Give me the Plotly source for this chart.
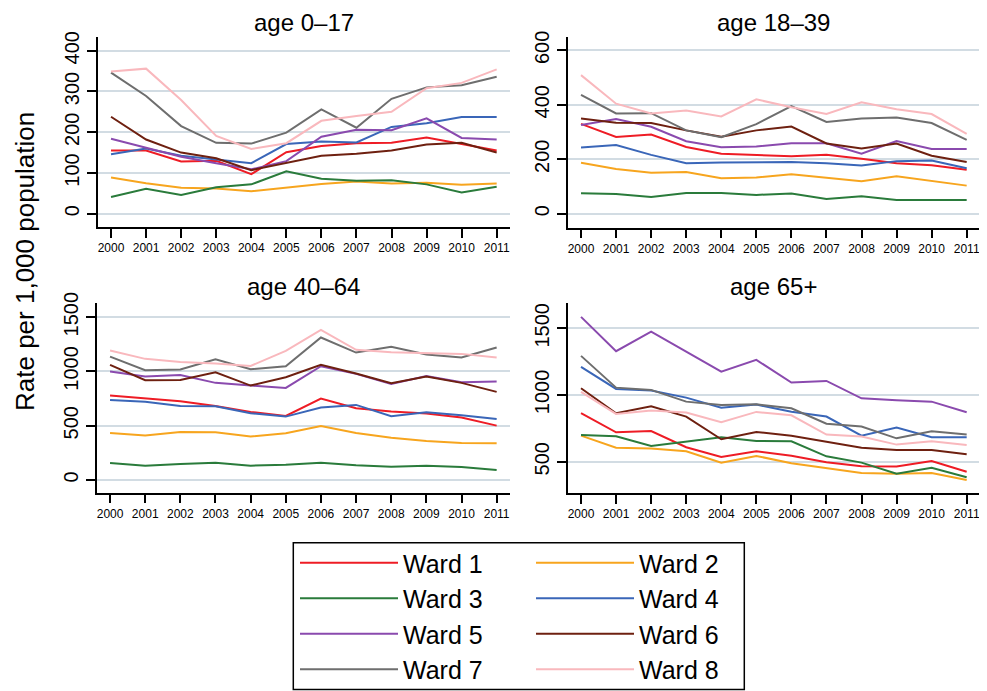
import plotly.graph_objects as go

years = list(range(2000, 2012))
wards = ["Ward 1", "Ward 2", "Ward 3", "Ward 4", "Ward 5", "Ward 6", "Ward 7", "Ward 8"]
colors = ["#ee1c25", "#f7a51e", "#2a7b3b", "#3a66b8", "#8a4aae", "#6e2010", "#6e6e6e", "#f9b8bd"]
panel_titles = ["age 0\u201317", "age 18\u201339", "age 40\u201364", "age 65+"]

age_0_17 = {
    "Ward 1": [155, 155, 128, 130, 97, 151, 166, 173, 174, 187, 171, 155],
    "Ward 2": [89, 75, 64, 62, 55, 64, 73, 79, 74, 76, 71, 74],
    "Ward 3": [41, 61, 46, 65, 72, 104, 86, 81, 82, 72, 52, 66],
    "Ward 4": [146, 160, 142, 133, 124, 171, 177, 175, 213, 222, 237, 237],
    "Ward 5": [184, 162, 140, 124, 109, 129, 189, 206, 205, 234, 186, 182],
    "Ward 6": [238, 182, 150, 136, 107, 125, 142, 147, 155, 170, 174, 150],
    "Ward 7": [346, 289, 215, 174, 172, 199, 256, 211, 282, 310, 315, 336],
    "Ward 8": [349, 356, 279, 191, 159, 173, 228, 240, 250, 308, 321, 354],
}
age_18_39 = {
    "Ward 1": [330, 282, 291, 245, 220, 216, 211, 216, 202, 185, 178, 161],
    "Ward 2": [187, 164, 150, 153, 130, 133, 145, 133, 119, 137, 119, 103],
    "Ward 3": [75, 72, 61, 76, 76, 69, 74, 54, 64, 50, 50, 50],
    "Ward 4": [243, 252, 216, 185, 188, 188, 190, 185, 177, 193, 195, 167],
    "Ward 5": [326, 348, 319, 266, 244, 247, 259, 259, 220, 267, 238, 238],
    "Ward 6": [350, 334, 333, 306, 283, 306, 320, 258, 239, 258, 213, 190],
    "Ward 7": [436, 368, 369, 306, 281, 329, 395, 337, 350, 353, 333, 271],
    "Ward 8": [509, 404, 368, 379, 357, 420, 391, 366, 409, 384, 366, 293],
}
age_40_64 = {
    "Ward 1": [778, 753, 725, 682, 627, 590, 750, 661, 630, 612, 575, 501],
    "Ward 2": [433, 409, 443, 440, 400, 430, 498, 433, 390, 360, 341, 338],
    "Ward 3": [157, 132, 148, 160, 132, 141, 160, 135, 123, 132, 120, 92],
    "Ward 4": [738, 722, 682, 679, 615, 584, 667, 692, 587, 624, 596, 563],
    "Ward 5": [999, 953, 968, 895, 870, 848, 1048, 978, 885, 959, 901, 907],
    "Ward 6": [1061, 919, 922, 993, 870, 947, 1061, 981, 891, 953, 895, 812],
    "Ward 7": [1137, 1011, 1018, 1113, 1021, 1048, 1313, 1174, 1227, 1156, 1128, 1220],
    "Ward 8": [1193, 1116, 1088, 1073, 1051, 1190, 1383, 1199, 1177, 1171, 1162, 1128],
}
age_65_plus = {
    "Ward 1": [863, 720, 730, 608, 535, 578, 545, 495, 465, 463, 505, 425],
    "Ward 2": [695, 605, 598, 578, 493, 543, 488, 450, 415, 410, 415, 363],
    "Ward 3": [700, 690, 618, 648, 683, 655, 653, 540, 493, 410, 455, 383],
    "Ward 4": [1210, 1045, 1033, 980, 905, 928, 875, 838, 695, 755, 683, 683],
    "Ward 5": [1585, 1328, 1475, 1325, 1175, 1263, 1093, 1105, 975, 960, 950, 870],
    "Ward 6": [1050, 863, 915, 838, 668, 723, 695, 648, 605, 588, 588, 555],
    "Ward 7": [1293, 1055, 1038, 950, 925, 930, 900, 785, 763, 675, 728, 703],
    "Ward 8": [1023, 858, 883, 868, 795, 873, 848, 703, 688, 628, 653, 625],
}
panels = [age_0_17, age_18_39, age_40_64, age_65_plus]
y_ticks = [[0, 100, 200, 300, 400], [0, 200, 400, 600], [0, 500, 1000, 1500], [500, 1000, 1500]]
y_ranges = [[-32.6, 433.6], [-50.8, 649], [-117, 1628], [263, 1687]]

W, H = 987, 691
OFF = 8  # page body margin offset of the plot div


def px_x(v):
    return (v - OFF) / W


def px_y(v):
    return 1 - (v - OFF) / H


x_domains = [[97.7, 510], [567.7, 980], [96.7, 510], [567.7, 980]]
y_domains = [[37, 227], [37, 227.5], [303.3, 492.7], [303.3, 493.3]]

FONT = "Liberation Sans, Arial, Helvetica, sans-serif"
fig = go.Figure()
for p, data in enumerate(panels):
    for i, (w, c) in enumerate(zip(wards, colors)):
        fig.add_trace(go.Scatter(
            x=years, y=data[w], mode="lines", name=w,
            line=dict(color=c, width=2),
            xaxis="x" if p == 0 else f"x{p+1}",
            yaxis="y" if p == 0 else f"y{p+1}",
            showlegend=(p == 0), legendgroup=w,
            legend="legend" if i % 2 == 0 else "legend2",
        ))

leg_common = dict(
    orientation="v", yanchor="top", xanchor="left",
    borderwidth=0, bgcolor="rgba(0,0,0,0)",
    font=dict(size=25, family=FONT, color="black"),
    itemwidth=98, tracegroupgap=0, traceorder="normal",
)
layout = dict(
    width=W, height=H,
    margin=dict(l=0, r=0, t=0, b=0, autoexpand=False),
    paper_bgcolor="white", plot_bgcolor="white",
    font=dict(family=FONT, color="black"),
    showlegend=True,
    legend=dict(x=px_x(295), y=px_y(540), **leg_common),
    legend2=dict(x=px_x(531), y=px_y(540), **leg_common),
    shapes=[dict(type="rect", xref="paper", yref="paper",
                 x0=px_x(293.3), x1=px_x(744.3), y0=px_y(689.5), y1=px_y(542.7),
                 line=dict(color="black", width=1.5), fillcolor="rgba(0,0,0,0)")],
    annotations=[],
)
for p in range(4):
    xs = "xaxis" if p == 0 else f"xaxis{p+1}"
    ys = "yaxis" if p == 0 else f"yaxis{p+1}"
    xa = "x" if p == 0 else f"x{p+1}"
    ya = "y" if p == 0 else f"y{p+1}"
    layout[xs] = dict(
        domain=[px_x(x_domains[p][0]), px_x(x_domains[p][1])],
        anchor=ya, range=[1999.62, 2011.38],
        tickvals=years, ticktext=[str(y) for y in years],
        showgrid=False, zeroline=False, showline=True, linecolor="black", linewidth=1.5,
        ticks="outside", ticklen=9, tickwidth=1.5, tickcolor="black",
        tickfont=dict(size=12, family=FONT, color="black"),
    )
    layout[ys] = dict(
        domain=[px_y(y_domains[p][1]), px_y(y_domains[p][0])],
        anchor=xa, range=y_ranges[p],
        tickvals=y_ticks[p], ticktext=[str(t) for t in y_ticks[p]],
        showgrid=True, gridcolor="#d2dce3", gridwidth=1.5, zeroline=False,
        showline=True, linecolor="black", linewidth=1.5,
        ticks="outside", ticklen=9, tickwidth=1.5, tickcolor="black",
        tickangle=-90, tickfont=dict(size=20, family=FONT, color="black"),
    )
    cx = (x_domains[p][0] + x_domains[p][1]) / 2
    if p < 2:
        ty, yanc = 1.0, "top"
    else:
        ty, yanc = px_y(286), "middle"
    layout["annotations"].append(dict(
        text=panel_titles[p], x=px_x(cx), y=ty, xref="paper", yref="paper",
        showarrow=False, font=dict(size=24, family=FONT, color="black"),
        xanchor="center", yanchor=yanc, borderpad=0,
    ))
layout["annotations"].append(dict(
    text="Rate per 1,000 population", x=px_x(25), y=px_y(262), xref="paper", yref="paper",
    showarrow=False, textangle=-90, font=dict(size=26, family=FONT, color="black"),
    xanchor="center", yanchor="middle",
))
fig.update_layout(**layout)
fig.write_html("out.html")
